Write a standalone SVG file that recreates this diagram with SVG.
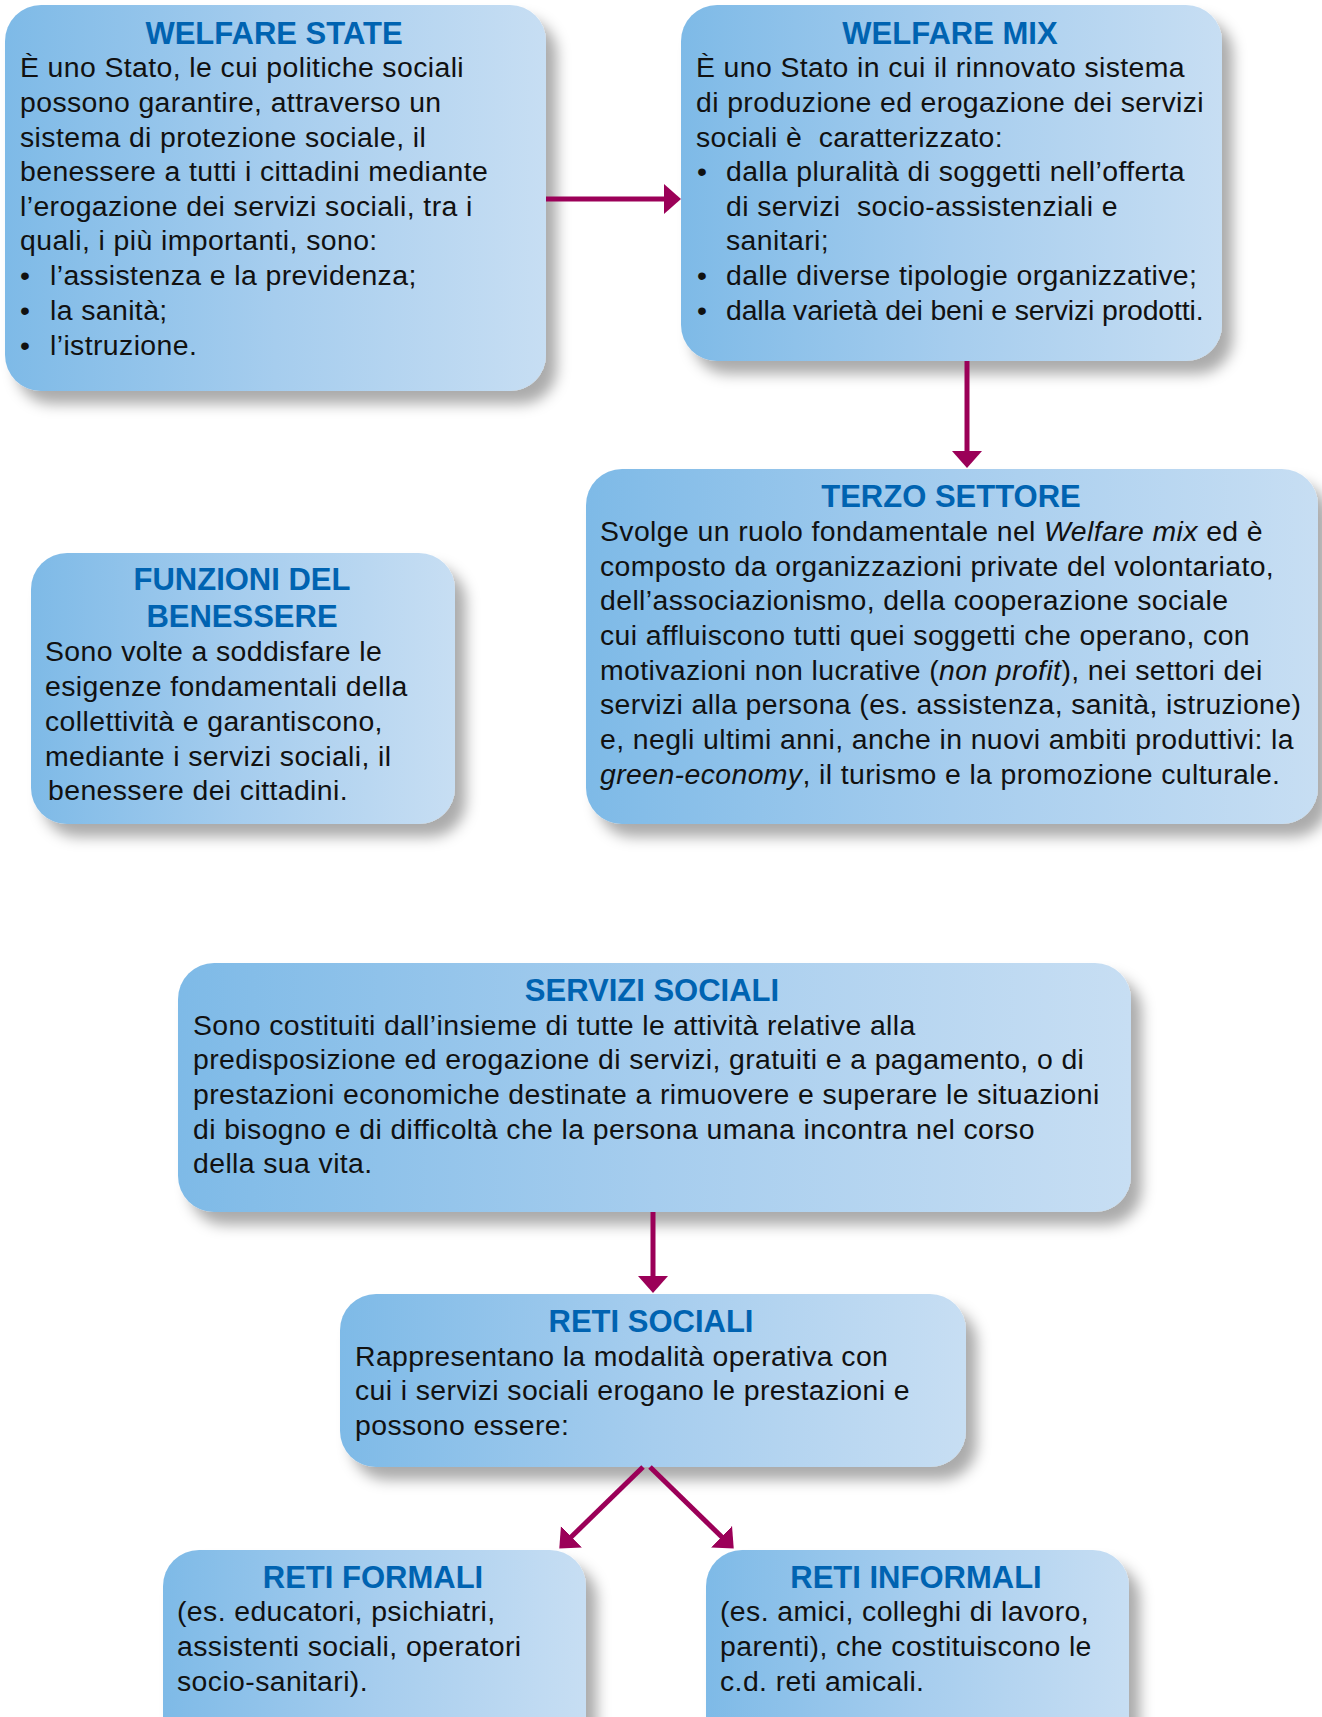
<svg xmlns="http://www.w3.org/2000/svg" width="1322" height="1717" viewBox="0 0 1322 1717">
<defs>
  <linearGradient id="boxGrad" x1="0" y1="0" x2="1" y2="0">
    <stop offset="0" stop-color="#7EBAE7"/>
    <stop offset="0.5" stop-color="#A6CDEE"/>
    <stop offset="1" stop-color="#C7DEF3"/>
  </linearGradient>
  <filter id="shadow" x="-10%" y="-10%" width="130%" height="140%">
    <feDropShadow dx="11" dy="13" stdDeviation="7" flood-color="#000" flood-opacity="0.33"/>
  </filter>
  <marker id="arrow" markerUnits="userSpaceOnUse" markerWidth="17" markerHeight="30" refX="9" refY="15" orient="auto">
    <path d="M0,0 L17,15 L0,30 Z" fill="#9B0058"/>
  </marker>
  <style>
    .box { fill: url(#boxGrad); filter: url(#shadow); }
    .title { font-family: "Liberation Sans", Arial, sans-serif; font-weight: bold; font-size: 31px; fill: #0063B1; text-anchor: middle; }
    .body { font-family: "Liberation Sans", Arial, sans-serif; font-size: 28.4px; fill: #111; letter-spacing: 0.4px; }
    .conn { stroke: #9B0058; stroke-width: 5; fill: none; marker-end: url(#arrow); }
  </style>
</defs>

<g id="welfare-state">
  <rect class="box" x="5" y="5" width="541" height="386" rx="36"/>
  <text class="title" x="274" y="44">WELFARE STATE</text>
  <text class="body" x="20" y="77">È uno Stato, le cui politiche sociali</text>
  <text class="body" x="20" y="112">possono garantire, attraverso un</text>
  <text class="body" x="20" y="147">sistema di protezione sociale, il</text>
  <text class="body" x="20" y="181">benessere a tutti i cittadini mediante</text>
  <text class="body" x="20" y="216">l’erogazione dei servizi sociali, tra i</text>
  <text class="body" x="20" y="250">quali, i più importanti, sono:</text>
  <text class="body" x="20" y="285">•</text><text class="body" x="50" y="285">l’assistenza e la previdenza;</text>
  <text class="body" x="20" y="320">•</text><text class="body" x="50" y="320">la sanità;</text>
  <text class="body" x="20" y="355">•</text><text class="body" x="50" y="355">l’istruzione.</text>
</g>

<g id="welfare-mix">
  <rect class="box" x="681" y="5" width="541" height="356" rx="36"/>
  <text class="title" x="950" y="44">WELFARE MIX</text>
  <text class="body" x="696" y="77">È uno Stato in cui il rinnovato sistema</text>
  <text class="body" x="696" y="112">di produzione ed erogazione dei servizi</text>
  <text class="body" x="696" y="147" xml:space="preserve">sociali è  caratterizzato:</text>
  <text class="body" x="697" y="181">•</text><text class="body" x="726" y="181">dalla pluralità di soggetti nell’offerta</text>
  <text class="body" x="726" y="216" xml:space="preserve">di servizi  socio-assistenziali e</text>
  <text class="body" x="726" y="250">sanitari;</text>
  <text class="body" x="697" y="285">•</text><text class="body" x="726" y="285">dalle diverse tipologie organizzative;</text>
  <text class="body" x="697" y="320">•</text><text class="body" x="726" y="320" textLength="478" lengthAdjust="spacing">dalla varietà dei beni e servizi prodotti.</text>
</g>

<g id="terzo-settore">
  <rect class="box" x="586" y="469" width="732" height="355" rx="36"/>
  <text class="title" x="951" y="507">TERZO SETTORE</text>
  <text class="body" x="600" y="541">Svolge un ruolo fondamentale nel <tspan font-style="italic">Welfare mix</tspan> ed è</text>
  <text class="body" x="600" y="576">composto da organizzazioni private del volontariato,</text>
  <text class="body" x="600" y="610">dell’associazionismo, della cooperazione sociale</text>
  <text class="body" x="600" y="645">cui affluiscono tutti quei soggetti che operano, con</text>
  <text class="body" x="600" y="680">motivazioni non lucrative (<tspan font-style="italic">non profit</tspan>), nei settori dei</text>
  <text class="body" x="600" y="714">servizi alla persona (es. assistenza, sanità, istruzione)</text>
  <text class="body" x="600" y="749">e, negli ultimi anni, anche in nuovi ambiti produttivi: la</text>
  <text class="body" x="600" y="784"><tspan font-style="italic">green-economy</tspan>, il turismo e la promozione culturale.</text>
</g>

<g id="funzioni-benessere">
  <rect class="box" x="31" y="553" width="424" height="271" rx="36"/>
  <text class="title" x="242" y="590">FUNZIONI DEL</text>
  <text class="title" x="242" y="627">BENESSERE</text>
  <text class="body" x="45" y="661">Sono volte a soddisfare le</text>
  <text class="body" x="45" y="696">esigenze fondamentali della</text>
  <text class="body" x="45" y="731">collettività e garantiscono,</text>
  <text class="body" x="45" y="766">mediante i servizi sociali, il</text>
  <text class="body" x="48" y="800">benessere dei cittadini.</text>
</g>

<g id="servizi-sociali">
  <rect class="box" x="178" y="963" width="953" height="249" rx="36"/>
  <text class="title" x="652" y="1001">SERVIZI SOCIALI</text>
  <text class="body" x="193" y="1035">Sono costituiti dall’insieme di tutte le attività relative alla</text>
  <text class="body" x="193" y="1069">predisposizione ed erogazione di servizi, gratuiti e a pagamento, o di</text>
  <text class="body" x="193" y="1104">prestazioni economiche destinate a rimuovere e superare le situazioni</text>
  <text class="body" x="193" y="1139">di bisogno e di difficoltà che la persona umana incontra nel corso</text>
  <text class="body" x="193" y="1173">della sua vita.</text>
</g>

<g id="reti-sociali">
  <rect class="box" x="340" y="1294" width="626" height="173" rx="36"/>
  <text class="title" x="651" y="1332">RETI SOCIALI</text>
  <text class="body" x="355" y="1366">Rappresentano la modalità operativa con</text>
  <text class="body" x="355" y="1400">cui i servizi sociali erogano le prestazioni e</text>
  <text class="body" x="355" y="1435">possono essere:</text>
</g>

<g id="reti-formali">
  <rect class="box" x="163" y="1550" width="423" height="220" rx="36"/>
  <text class="title" x="373" y="1588">RETI FORMALI</text>
  <text class="body" x="177" y="1621">(es. educatori, psichiatri,</text>
  <text class="body" x="177" y="1656">assistenti sociali, operatori</text>
  <text class="body" x="177" y="1691">socio-sanitari).</text>
</g>

<g id="reti-informali">
  <rect class="box" x="706" y="1550" width="423" height="220" rx="36"/>
  <text class="title" x="916" y="1588">RETI INFORMALI</text>
  <text class="body" x="720" y="1621">(es. amici, colleghi di lavoro,</text>
  <text class="body" x="720" y="1656">parenti), che costituiscono le</text>
  <text class="body" x="720" y="1691">c.d. reti amicali.</text>
</g>

<g id="connectors">
  <line class="conn" x1="546" y1="199" x2="673" y2="199"/>
  <line class="conn" x1="967" y1="361" x2="967" y2="460"/>
  <line class="conn" x1="653" y1="1212" x2="653" y2="1285"/>
  <line class="conn" x1="643" y1="1467" x2="565" y2="1543"/>
  <line class="conn" x1="650" y1="1467" x2="728" y2="1543"/>
</g>
</svg>
